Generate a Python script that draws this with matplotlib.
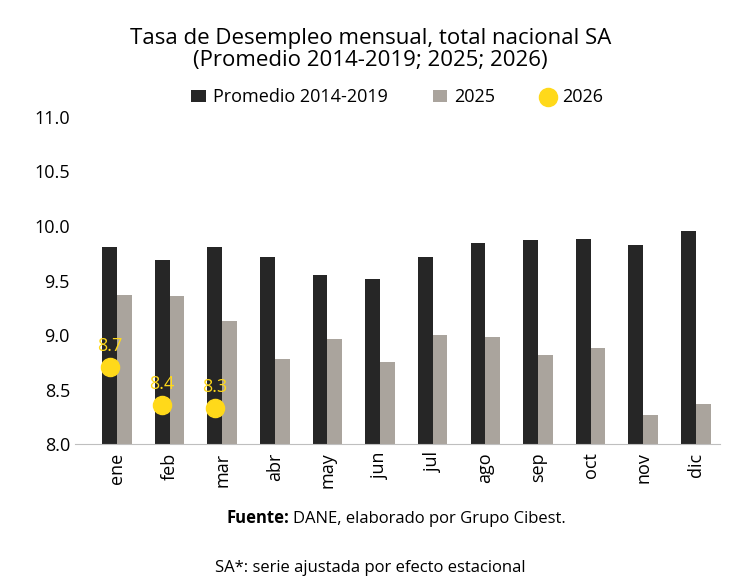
import matplotlib
matplotlib.use("Agg")
import matplotlib.pyplot as plt
import numpy as np

plt.rcParams['font.family'] = ['Open Sans', 'DejaVu Sans']

months = ['ene','feb','mar','abr','may','jun','jul','ago','sep','oct','nov','dic']
prom = [9.81,9.69,9.81,9.72,9.55,9.51,9.72,9.84,9.87,9.88,9.83,9.95]
y2025 = [9.37,9.36,9.13,8.78,8.96,8.75,9.00,8.98,8.82,8.88,8.27,8.37]
y2026 = [8.71,8.36,8.33]
lab2026 = ['8.7','8.4','8.3']

fig = plt.figure(figsize=(7.41,5.82), dpi=100)
ax = fig.add_axes([0.101, 0.237, 0.87, 0.562])
x = np.arange(len(months))
w = 0.28
b1 = ax.bar(x - w/2, prom, w, color='#262626', label='Promedio 2014-2019')
b2 = ax.bar(x + w/2, y2025, w, color='#aaa49d', label='2025')
sc = ax.scatter(x[:3] - w/2, y2026, s=170, color='#ffd91a', zorder=3, label='2026')
for xi, v, t in zip(x[:3] - w/2, y2026, lab2026):
    ax.text(xi, v + 0.11, t, color='#ffd91a', ha='center', va='bottom', fontsize=13)
ax.set_ylim(8.0, 11.0)
ax.set_yticks(np.arange(8.0, 11.01, 0.5))
ax.set_yticklabels([f'{v:.1f}' for v in np.arange(8.0, 11.01, 0.5)], fontsize=13)
ax.set_xticks(x)
ax.set_xticklabels(months, rotation=90, fontsize=13)
ax.set_xlim(-0.8, 11.45)
for s in ['top','right','left']:
    ax.spines[s].set_visible(False)
ax.spines['bottom'].set_color('#bfbfbf')
ax.tick_params(axis='both', length=0)
ax.tick_params(axis='x', pad=6)
ax.legend([b1, b2, sc], ['Promedio 2014-2019', '2025', '2026'],
          loc='lower center', bbox_to_anchor=(0.5, 1.0), ncol=3, frameon=False,
          fontsize=13, handlelength=0.8, handletextpad=0.4, columnspacing=2.5, borderaxespad=0.2)
fig.text(0.5, 0.915, 'Tasa de Desempleo mensual, total nacional SA\n(Promedio 2014-2019; 2025; 2026)',
         ha='center', va='center', fontsize=16, linespacing=1.05)
fig.text(0.39, 0.102, 'Fuente:', ha='right', fontsize=12, fontweight='bold')
fig.text(0.395, 0.102, 'DANE, elaborado por Grupo Cibest.', ha='left', fontsize=12)
fig.text(0.5, 0.018, 'SA*: serie ajustada por efecto estacional', ha='center', fontsize=12)
fig.savefig('out.png', dpi=100)
